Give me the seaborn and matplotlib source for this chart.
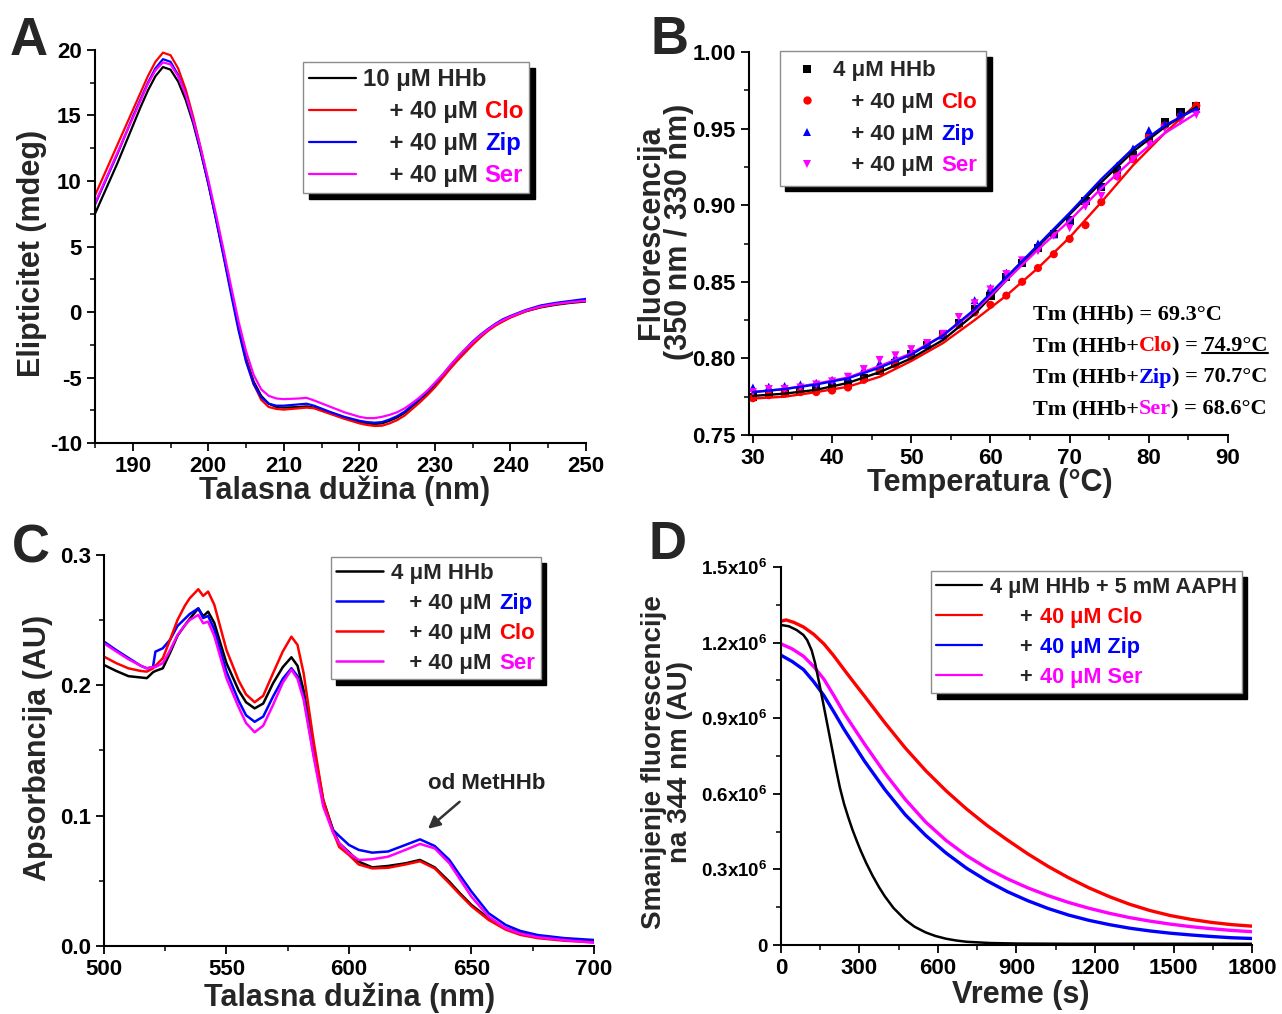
import numpy as np
import pandas as pd
import matplotlib
matplotlib.use("Agg")
import matplotlib.pyplot as plt
from matplotlib.lines import Line2D
from matplotlib.ticker import MultipleLocator, FuncFormatter, FormatStrFormatter
from matplotlib.offsetbox import TextArea, HPacker, VPacker, AnchoredOffsetbox
import seaborn as sns

# ---------------- A: CD spectra ----------------
cd_nm = [185, 186, 187, 188, 189, 190, 191, 192, 193, 194, 195, 196, 197, 198, 199,
         200, 201, 202, 203, 204, 205, 206, 207, 208, 209, 210, 212, 213, 214, 216,
         218, 220, 221, 222, 223, 224, 225, 226, 227, 228, 229, 230, 231, 232, 233,
         234, 235, 236, 237, 238, 239, 240, 242, 244, 246, 248, 250]
cd_hhb = [7.5, 8.8, 10.1, 11.4, 12.8, 14.2, 15.6, 16.9, 18.0, 18.7, 18.5, 17.6, 16.2, 14.4, 12.2,
          9.8, 7.2, 4.5, 1.7, -1.1, -3.5, -5.3, -6.4, -7.0, -7.25, -7.3, -7.25, -7.2, -7.3, -7.7,
          -8.1, -8.4, -8.5, -8.55, -8.5, -8.3, -8.05, -7.7, -7.2, -6.7, -6.2, -5.6, -4.9, -4.2, -3.6,
          -3.0, -2.4, -1.9, -1.4, -1.0, -0.7, -0.4, 0.05, 0.35, 0.55, 0.7, 0.8]
cd_clo = [8.9, 10.2, 11.5, 12.8, 14.1, 15.4, 16.7, 18.0, 19.1, 19.8, 19.6, 18.6, 17.0, 14.9, 12.5,
          9.9, 7.2, 4.4, 1.6, -1.2, -3.7, -5.5, -6.7, -7.25, -7.4, -7.45, -7.35, -7.3, -7.35, -7.75,
          -8.15, -8.5, -8.62, -8.7, -8.68, -8.5, -8.25, -7.9, -7.4, -6.9, -6.35, -5.75, -5.05, -4.35, -3.7,
          -3.1, -2.5, -1.95, -1.45, -1.05, -0.72, -0.42, 0.05, 0.38, 0.6, 0.75, 0.85]
cd_zip = [8.2, 9.5, 10.8, 12.1, 13.5, 14.9, 16.2, 17.5, 18.6, 19.3, 19.1, 18.1, 16.6, 14.6, 12.3,
          9.8, 7.1, 4.3, 1.4, -1.4, -3.8, -5.5, -6.5, -7.0, -7.15, -7.15, -7.05, -7.0, -7.15, -7.6,
          -8.0, -8.3, -8.4, -8.45, -8.4, -8.2, -7.95, -7.6, -7.1, -6.6, -6.05, -5.45, -4.8, -4.1, -3.45,
          -2.85, -2.25, -1.75, -1.3, -0.9, -0.55, -0.3, 0.15, 0.5, 0.7, 0.85, 1.0]
cd_ser = [8.3, 9.6, 10.9, 12.2, 13.5, 14.8, 16.1, 17.4, 18.45, 19.05, 18.9, 18.0, 16.6, 14.7, 12.5,
          10.1, 7.5, 4.8, 2.0, -0.7, -3.0, -4.8, -5.9, -6.4, -6.6, -6.65, -6.6, -6.55, -6.75, -7.2,
          -7.65, -8.0, -8.1, -8.1, -8.0, -7.85, -7.65, -7.35, -6.95, -6.5, -6.0, -5.4, -4.8, -4.1, -3.45,
          -2.85, -2.3, -1.8, -1.35, -0.95, -0.62, -0.35, 0.1, 0.42, 0.62, 0.76, 0.86]

# ---------------- B: thermal unfolding ----------------
melt_t = [30, 32, 34, 36, 38, 40, 42, 44, 46, 48, 50, 52, 54, 56, 58,
          60, 62, 64, 66, 68, 70, 72, 74, 76, 78, 80, 82, 84, 86]
melt_hhb = [0.775, 0.777, 0.778, 0.779, 0.780, 0.781, 0.783, 0.787, 0.792, 0.797, 0.803, 0.809, 0.816, 0.823, 0.832,
            0.841, 0.853, 0.862, 0.872, 0.881, 0.890, 0.903, 0.912, 0.923, 0.933, 0.944, 0.954, 0.961, 0.965]
melt_clo = [0.774, 0.776, 0.777, 0.778, 0.778, 0.779, 0.781, 0.786, 0.792, 0.796, 0.801, 0.808, 0.815, 0.822, 0.830,
            0.835, 0.841, 0.850, 0.859, 0.868, 0.878, 0.887, 0.902, 0.919, 0.930, 0.945, 0.952, 0.958, 0.965]
melt_zip = [0.781, 0.7815, 0.782, 0.783, 0.784, 0.786, 0.788, 0.793, 0.797, 0.801, 0.805, 0.809, 0.815, 0.824, 0.838,
            0.846, 0.856, 0.864, 0.875, 0.881, 0.891, 0.903, 0.913, 0.926, 0.937, 0.949, 0.953, 0.960, 0.963]
melt_ser = [0.778, 0.780, 0.780, 0.781, 0.783, 0.785, 0.788, 0.793, 0.799, 0.802, 0.806, 0.810, 0.816, 0.827, 0.836,
            0.845, 0.855, 0.864, 0.870, 0.880, 0.885, 0.899, 0.906, 0.918, 0.930, 0.940, 0.950, 0.955, 0.959]
fit_t = [30, 34, 38, 42, 46, 50, 54, 58, 62, 66, 70, 74, 78, 82, 86]
fit_hhb = [0.7755, 0.777, 0.7795, 0.784, 0.791, 0.800, 0.812, 0.829, 0.851, 0.873, 0.894, 0.915, 0.935, 0.951, 0.964]
fit_clo = [0.7738, 0.775, 0.778, 0.7815, 0.788, 0.7983, 0.810, 0.825, 0.841, 0.859, 0.879, 0.902, 0.926, 0.947, 0.966]
fit_zip = [0.778, 0.780, 0.783, 0.787, 0.794, 0.8025, 0.815, 0.832, 0.853, 0.874, 0.895, 0.917, 0.937, 0.952, 0.963]
fit_ser = [0.778, 0.780, 0.7835, 0.7875, 0.795, 0.8033, 0.815, 0.831, 0.851, 0.871, 0.890, 0.911, 0.930, 0.947, 0.960]
tm_values = {"HHb": "69.3", "Clo": "74.9", "Zip": "70.7", "Ser": "68.6"}

# ---------------- C: visible absorption ----------------
abs_nm = [500, 505, 510, 515, 517.5, 520, 521, 524, 527, 530, 533, 535, 538.5, 540.5, 542.5, 545,
          550, 555, 558, 561.5, 565, 569, 573, 576.5, 579, 581.5, 585.5, 589.5, 593.5, 596, 600,
          604, 609.5, 616, 623, 629, 635, 641, 645, 650, 657, 664, 670, 677, 688, 700]
abs_hhb = [0.2156, 0.211, 0.207, 0.206, 0.2055, 0.21, 0.211, 0.213, 0.225, 0.238, 0.246, 0.251, 0.259, 0.253, 0.2565, 0.248,
           0.217, 0.196, 0.187, 0.1823, 0.186, 0.2015, 0.214, 0.2215, 0.215, 0.196, 0.153, 0.112, 0.089, 0.0788, 0.072,
           0.0647, 0.0603, 0.0614, 0.0634, 0.066, 0.0603, 0.0493, 0.041, 0.0315, 0.0212, 0.0136, 0.010, 0.0077, 0.0055, 0.0038]
abs_clo = [0.222, 0.217, 0.213, 0.211, 0.2105, 0.213, 0.215, 0.2207, 0.235, 0.2501, 0.261, 0.2668, 0.2737, 0.2686, 0.2719, 0.262,
           0.2271, 0.2035, 0.193, 0.187, 0.192, 0.2092, 0.226, 0.2373, 0.231, 0.2092, 0.158, 0.112, 0.0877, 0.076, 0.0698,
           0.0625, 0.0595, 0.06, 0.0625, 0.065, 0.0595, 0.048, 0.040, 0.0305, 0.020, 0.0125, 0.0085, 0.006, 0.004, 0.0028]
abs_zip = [0.2335, 0.227, 0.221, 0.215, 0.213, 0.214, 0.2258, 0.2284, 0.235, 0.2455, 0.251, 0.2547, 0.259, 0.2516, 0.2532, 0.243,
           0.2105, 0.188, 0.177, 0.172, 0.176, 0.1913, 0.205, 0.2131, 0.207, 0.1913, 0.1478, 0.1095, 0.089, 0.0844, 0.0775,
           0.0737, 0.0716, 0.0725, 0.0775, 0.0818, 0.0767, 0.066, 0.055, 0.0417, 0.0251, 0.0161, 0.0115, 0.0084, 0.006, 0.0046]
abs_ser = [0.2322, 0.226, 0.220, 0.215, 0.213, 0.214, 0.214, 0.217, 0.227, 0.2386, 0.246, 0.2501, 0.254, 0.2476, 0.2488, 0.238,
           0.2054, 0.183, 0.171, 0.164, 0.169, 0.1849, 0.202, 0.212, 0.205, 0.189, 0.146, 0.107, 0.087, 0.079, 0.0712,
           0.066, 0.0665, 0.0685, 0.0737, 0.0783, 0.0749, 0.0634, 0.052, 0.0378, 0.0225, 0.0136, 0.0095, 0.0067, 0.0045, 0.0025]

# ---------------- D: AAPH oxidation kinetics (values in 10^6 AU) ----------------
kin_hhb_t = [0, 30, 60, 86, 100, 117, 130, 148, 165, 179, 195, 210, 225, 241, 257, 273, 290, 304,
             325, 350, 375, 397, 430, 475, 510, 553, 590, 631, 670, 709, 800, 900, 1100, 1400, 1800]
kin_hhb = [1.27, 1.265, 1.25, 1.23, 1.21, 1.17, 1.12, 1.03, 0.94, 0.865, 0.78, 0.70, 0.625, 0.56, 0.507, 0.458, 0.412, 0.376,
           0.327, 0.275, 0.229, 0.193, 0.147, 0.100, 0.073, 0.050, 0.036, 0.025, 0.018, 0.013, 0.008, 0.006, 0.005, 0.005, 0.005]
kin_clo_t = [0, 20, 50, 86, 125, 164, 200, 241, 280, 319, 397, 475, 553, 631, 709,
             787, 865, 943, 1021, 1099, 1177, 1255, 1332, 1410, 1488, 1566, 1644, 1722, 1800]
kin_clo = [1.285, 1.29, 1.28, 1.262, 1.233, 1.195, 1.15, 1.093, 1.04, 0.988, 0.882, 0.782, 0.692, 0.612, 0.540,
           0.475, 0.417, 0.362, 0.312, 0.267, 0.227, 0.192, 0.162, 0.137, 0.117, 0.102, 0.090, 0.081, 0.075]
kin_zip_t = [0, 43, 86, 125, 164, 202, 241, 319, 397, 475, 553, 631, 709, 787, 865,
             943, 1021, 1099, 1177, 1255, 1332, 1410, 1488, 1566, 1644, 1722, 1800]
kin_zip = [1.15, 1.125, 1.093, 1.045, 0.99, 0.925, 0.856, 0.73, 0.617, 0.517, 0.435, 0.365, 0.305, 0.255, 0.212,
           0.176, 0.145, 0.119, 0.098, 0.081, 0.067, 0.056, 0.047, 0.040, 0.034, 0.029, 0.026]
kin_ser_t = [0, 43, 86, 125, 164, 202, 241, 319, 397, 475, 553, 631, 709, 787, 865,
             943, 1021, 1099, 1177, 1255, 1332, 1410, 1488, 1566, 1644, 1722, 1800]
kin_ser = [1.195, 1.175, 1.146, 1.105, 1.055, 0.99, 0.92, 0.798, 0.682, 0.578, 0.488, 0.415, 0.355, 0.305, 0.263,
           0.227, 0.196, 0.169, 0.146, 0.126, 0.109, 0.095, 0.083, 0.073, 0.065, 0.058, 0.053]

COLORS = {"HHb": "#000000", "Clo": "#ff0000", "Zip": "#0000ff", "Ser": "#ff00ff"}

sns.set_style("ticks")
plt.rcParams.update({
    "font.family": ["Liberation Sans", "DejaVu Sans"],
    "font.weight": "bold",
    "axes.labelweight": "bold",
    "axes.unicode_minus": False,
    "axes.linewidth": 1.5,
    "axes.edgecolor": "black",
    "mathtext.fontset": "custom",
    "mathtext.rm": "Liberation Sans:bold",
    "mathtext.bf": "Liberation Sans:bold",
    "mathtext.it": "Liberation Sans:bold",
    "mathtext.default": "bf",
    "xtick.direction": "out",
    "ytick.direction": "out",
    "xtick.color": "black",
    "ytick.color": "black",
})

fig = plt.figure(figsize=(12.82, 10.14), dpi=100)
axA = fig.add_axes([0.0741, 0.5631, 0.3830, 0.3876])
axB = fig.add_axes([0.5842, 0.5710, 0.3737, 0.3777])
axC = fig.add_axes([0.0811, 0.0671, 0.3822, 0.3856])
axD = fig.add_axes([0.6092, 0.0680, 0.3674, 0.3728])


def long_frame(pairs, xname):
    return pd.concat([pd.DataFrame({xname: x, "val": y, "sample": k}) for k, (x, y) in pairs.items()],
                     ignore_index=True)


def style_axis(ax, xmaj, xmin, ymaj, ymin, tick_size=16):
    sns.despine(ax=ax)
    ax.xaxis.set_major_locator(MultipleLocator(xmaj))
    ax.xaxis.set_minor_locator(MultipleLocator(xmin))
    ax.yaxis.set_major_locator(MultipleLocator(ymaj))
    ax.yaxis.set_minor_locator(MultipleLocator(ymin))
    ax.tick_params(which="major", length=6, width=1.3, labelsize=tick_size, pad=3.5)
    ax.tick_params(which="minor", length=3.5, width=1.1)
    ax.set_facecolor("none")


def place_labels(ax, xlabel, ylabel, xpos, ypos, size=22, ysize=None, linespacing=1.0):
    ax.set_xlabel(xlabel, fontsize=size, fontweight="bold")
    ax.set_ylabel(ylabel, fontsize=ysize or size, fontweight="bold", linespacing=linespacing)
    ax.xaxis.set_label_coords(*xpos)
    ax.yaxis.set_label_coords(*ypos)
    ax.xaxis.label.set_verticalalignment("center")
    ax.yaxis.label.set_verticalalignment("center")


SHADOW = {"ox": 4, "oy": -4, "facecolor": "black", "edgecolor": "black", "alpha": 1.0}


def boxed_legend(ax, handles, heads, tails, anchor, size=16, handlelength=2.1,
                 handletextpad=0.35, labelspacing=0.3, borderpad=0.3):
    leg = ax.legend(handles, heads, loc="upper left", bbox_to_anchor=anchor,
                    borderaxespad=0, frameon=True, fancybox=False, framealpha=1,
                    shadow=SHADOW, prop={"size": size, "weight": "bold"},
                    handlelength=handlelength, handletextpad=handletextpad,
                    labelspacing=labelspacing, borderpad=borderpad)
    frame = leg.get_frame()
    frame.set_edgecolor("#8c8c8c")
    frame.set_linewidth(1.0)
    rows = [row for col in leg._legend_handle_box.get_children() for row in col.get_children()]
    for row, tail in zip(rows, tails):
        if tail is None:
            continue
        word, color = tail
        ta = TextArea(word, textprops=dict(color=color, fontproperties=leg.prop,
                                           verticalalignment="baseline",
                                           horizontalalignment="left"))
        ta.set_figure(fig)
        row.get_children().append(ta)
    return leg


# ---------------- panel A ----------------
dfA = long_frame({"HHb": (cd_nm, cd_hhb), "Clo": (cd_nm, cd_clo),
                  "Zip": (cd_nm, cd_zip), "Ser": (cd_nm, cd_ser)}, "nm")
sns.lineplot(data=dfA, x="nm", y="val", hue="sample", hue_order=["HHb", "Clo", "Zip", "Ser"],
             palette=COLORS, estimator=None, sort=False, legend=False, linewidth=1.6, ax=axA)
axA.set_xlim(185, 250)
axA.set_ylim(-10, 20)
style_axis(axA, 10, 5, 5, 2.5)
place_labels(axA, "Talasna dužina (nm)", "Elipticitet (mdeg)", (0.509, -0.122), (-0.128, 0.483))
handlesA = [Line2D([], [], color=COLORS[k], lw=1.6) for k in ["HHb", "Clo", "Zip", "Ser"]]
boxed_legend(axA, handlesA, ["10 μM HHb", "    + 40 μM", "    + 40 μM", "    + 40 μM"],
             [None, ("Clo", COLORS["Clo"]), ("Zip", COLORS["Zip"]), ("Ser", COLORS["Ser"])],
             (0.4236, 0.9695), size=17.2, handlelength=1.95, handletextpad=0.3,
             labelspacing=0.38, borderpad=0.25)

# ---------------- panel B ----------------
dfB = long_frame({"HHb": (melt_t, melt_hhb), "Clo": (melt_t, melt_clo),
                  "Zip": (melt_t, melt_zip), "Ser": (melt_t, melt_ser)}, "T")
fitB = long_frame({"Clo": (fit_t, fit_clo), "HHb": (fit_t, fit_hhb),
                   "Ser": (fit_t, fit_ser), "Zip": (fit_t, fit_zip)}, "T")
MARKERS = {"HHb": "s", "Clo": "o", "Zip": "^", "Ser": "v"}
sns.scatterplot(data=dfB, x="T", y="val", hue="sample", style="sample",
                hue_order=["HHb", "Clo", "Zip", "Ser"], style_order=["HHb", "Clo", "Zip", "Ser"],
                palette=COLORS, markers=MARKERS, s=34, linewidth=0, legend=False, ax=axB)
sns.lineplot(data=fitB, x="T", y="val", hue="sample", hue_order=["Clo", "HHb", "Ser", "Zip"],
             palette=COLORS, estimator=None, sort=False, legend=False, linewidth=1.7, ax=axB)
axB.set_xlim(29.5, 90)
axB.set_ylim(0.75, 1.0)
style_axis(axB, 10, 5, 0.05, 0.025)
axB.yaxis.set_major_formatter(FormatStrFormatter("%.2f"))
place_labels(axB, "Temperatura (°C)", "Fluorescencija\n(350 nm / 330 nm)", (0.503, -0.125), (-0.176, 0.530),
             linespacing=0.92)
handlesB = [Line2D([], [], color=COLORS[k], marker=MARKERS[k], linestyle="none", markersize=6,
                   markeredgewidth=0) for k in ["HHb", "Clo", "Zip", "Ser"]]
boxed_legend(axB, handlesB, ["4 μM HHb", "   + 40 μM", "   + 40 μM", "   + 40 μM"],
             [None, ("Clo", COLORS["Clo"]), ("Zip", COLORS["Zip"]), ("Ser", COLORS["Ser"])],
             (0.0647, 1.0026), handlelength=1.6, labelspacing=0.48, borderpad=0.42)

serif = dict(fontfamily=["Liberation Serif", "DejaVu Serif"], fontweight="bold", fontsize=16)


def tm_piece(s, color="black"):
    return TextArea(s, textprops=dict(color=color, **serif))


underlined = tm_piece(" " + tm_values["Clo"] + "°C")
tm_rows = [
    HPacker(children=[tm_piece("Tm (HHb) = " + tm_values["HHb"] + "°C")], sep=0, pad=0, align="baseline"),
    HPacker(children=[tm_piece("Tm (HHb+"), tm_piece("Clo", COLORS["Clo"]), tm_piece(") ="), underlined],
            sep=0, pad=0, align="baseline"),
    HPacker(children=[tm_piece("Tm (HHb+"), tm_piece("Zip", COLORS["Zip"]),
                      tm_piece(") = " + tm_values["Zip"] + "°C")], sep=0, pad=0, align="baseline"),
    HPacker(children=[tm_piece("Tm (HHb+"), tm_piece("Ser", COLORS["Ser"]),
                      tm_piece(") = " + tm_values["Ser"] + "°C")], sep=0, pad=0, align="baseline"),
]
tm_box = AnchoredOffsetbox(loc="upper left", child=VPacker(children=tm_rows, sep=8.3, pad=0, align="left"),
                           frameon=False, bbox_to_anchor=(0.593, 0.340), bbox_transform=axB.transAxes,
                           borderpad=0, pad=0)
axB.add_artist(tm_box)

# ---------------- panel C ----------------
dfC = long_frame({"HHb": (abs_nm, abs_hhb), "Zip": (abs_nm, abs_zip),
                  "Clo": (abs_nm, abs_clo), "Ser": (abs_nm, abs_ser)}, "nm")
sns.lineplot(data=dfC, x="nm", y="val", hue="sample", hue_order=["HHb", "Zip", "Clo", "Ser"],
             palette=COLORS, estimator=None, sort=False, legend=False, linewidth=1.8, ax=axC)
axC.set_xlim(500, 700)
axC.set_ylim(0, 0.3)
style_axis(axC, 50, 25, 0.1, 0.05)
axC.yaxis.set_major_formatter(FormatStrFormatter("%.1f"))
place_labels(axC, "Talasna dužina (nm)", "Apsorbancija (AU)", (0.502, -0.133), (-0.135, 0.506))
handlesC = [Line2D([], [], color=COLORS[k], lw=1.8) for k in ["HHb", "Zip", "Clo", "Ser"]]
boxed_legend(axC, handlesC, ["4 μM HHb", "   + 40 μM", "   + 40 μM", "   + 40 μM"],
             [None, ("Zip", COLORS["Zip"]), ("Clo", COLORS["Clo"]), ("Ser", COLORS["Ser"])],
             (0.463, 0.9949), labelspacing=0.41, borderpad=0.25)
axC.annotate("", xy=(631.4, 0.0885), xytext=(646, 0.112),
             arrowprops=dict(arrowstyle="-|>", color="#333333", lw=1.8, mutation_scale=18))
axC.text(656.3, 0.1243, "od MetHHb", ha="center", va="center", fontsize=16,
         fontweight="bold", color="#222222")

# ---------------- panel D ----------------
dfD = long_frame({"HHb": (kin_hhb_t, kin_hhb), "Clo": (kin_clo_t, kin_clo),
                  "Zip": (kin_zip_t, kin_zip), "Ser": (kin_ser_t, kin_ser)}, "t")
dfD["val"] = dfD["val"] * 1e6
sns.lineplot(data=dfD, x="t", y="val", hue="sample", hue_order=["Clo", "Ser", "Zip"],
             palette=COLORS, estimator=None, sort=False, legend=False, linewidth=2.4,
             ax=axD)
sns.lineplot(data=dfD[dfD["sample"] == "HHb"], x="t", y="val", color=COLORS["HHb"],
             estimator=None, sort=False, legend=False, linewidth=1.8, ax=axD)
axD.set_xlim(0, 1800)
axD.set_ylim(0, 1.5e6)
style_axis(axD, 300, 150, 0.3e6, 0.15e6)
axD.tick_params(axis="y", which="major", labelsize=13.5)
axD.yaxis.set_major_formatter(FuncFormatter(
    lambda v, p: "0" if abs(v) < 1 else "%.1fx10$^{6}$" % (v / 1e6)))
place_labels(axD, "Vreme (s)", "Smanjenje fluorescencije\nna 344 nm (AU)", (0.51, -0.132), (-0.242, 0.484),
             ysize=20)
handlesD = [Line2D([], [], color=COLORS[k], lw=1.6) for k in ["HHb", "Clo", "Zip", "Ser"]]
boxed_legend(axD, handlesD, ["4 μM HHb + 5 mM AAPH", "     +", "     +", "     +"],
             [None, ("40 μM Clo", COLORS["Clo"]), ("40 μM Zip", COLORS["Zip"]), ("40 μM Ser", COLORS["Ser"])],
             (0.3185, 0.989), size=15.6, labelspacing=0.42, borderpad=0.25)

# ---------------- panel letters ----------------
for letter, (fx, fy) in {"A": (0.0226, 0.9596), "B": (0.5226, 0.9606),
                         "C": (0.0242, 0.4586), "D": (0.5203, 0.4625)}.items():
    fig.text(fx, fy, letter, fontsize=38, fontweight="bold", ha="center", va="center")

# underline the highest melting temperature
fig.canvas.draw()
renderer = fig.canvas.get_renderer()
bb = underlined.get_window_extent(renderer)
(x0, y0), (x1, _) = fig.transFigure.inverted().transform([[bb.x0 + 4, bb.y0 + 3], [bb.x1, bb.y0]])
fig.add_artist(Line2D([x0, x1], [y0, y0], transform=fig.transFigure, color="black", lw=1.5))

fig.savefig("out.png", dpi=100, facecolor="white")
